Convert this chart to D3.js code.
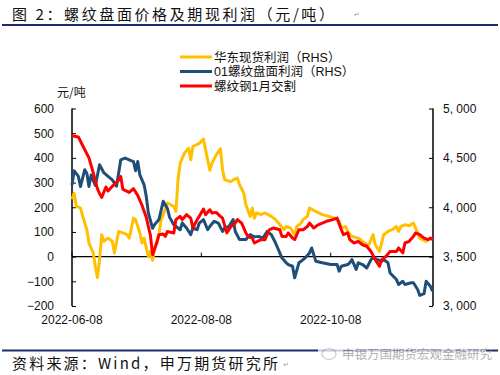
<!DOCTYPE html>
<html>
<head>
<meta charset="utf-8">
<style>
  body, html { margin: 0; padding: 0; background: #fff; }
  svg { display: block; }
</style>
</head>
<body>
<svg id="svg" width="500" height="375"></svg>
<script src="https://d3js.org/d3.v7.min.js"></script>
<script>
// 华东现货利润 (left axis, 元/吨)
const spotProfit = [
  ["06-08",232],["06-09",257],["06-10",205],["06-12",197],["06-13",165],["06-15",109],
  ["06-16",55],["06-18",15],["06-19",-39],["06-20",-85],["06-21",-12],["06-22",89],
  ["06-23",62],["06-25",75],["06-27",62],["06-28",15],["06-30",102],["07-02",96],
  ["07-04",89],["07-05",75],["07-07",156],["07-08",150],["07-10",96],["07-11",55],
  ["07-12",75],["07-14",1],["07-15",21],["07-16",-15],["07-17",35],["07-19",89],
  ["07-20",150],["07-21",170],["07-23",217],["07-26",203],["07-27",183],["07-28",311],
  ["07-29",378],["07-31",419],["08-02",439],["08-03",392],["08-04",446],["08-07",459],
  ["08-09",476],["08-10",432],["08-12",350],["08-13",378],["08-15",412],["08-17",437],
  ["08-18",351],["08-19",311],["08-22",304],["08-23",311],["08-25",318],["08-26",291],
  ["08-28",257],["08-29",210],["08-31",163],["09-01",197],["09-02",156],["09-03",177],
  ["09-05",170],["09-07",177],["09-10",163],["09-12",150],["09-14",129],["09-16",109],
  ["09-17",122],["09-19",116],["09-21",89],["09-22",122],["09-24",136],["09-25",150],
  ["09-27",163],["09-28",197],["10-01",183],["10-04",170],["10-07",163],["10-10",156],
  ["10-12",143],["10-13",116],["10-15",122],["10-16",102],["10-18",82],["10-21",75],
  ["10-22",69],["10-24",55],["10-26",48],["10-28",89],["10-29",48],["10-30",35],
  ["10-31",21],["11-02",89],["11-04",102],["11-06",109],["11-08",122],["11-09",102],
  ["11-10",122],["11-12",129],["11-14",125],["11-16",136],["11-18",96],["11-19",75],
  ["11-22",62],["11-23",69],["11-25",75]
]

// 01螺纹盘面利润 (left axis, 元/吨)
const futuresProfit = [
  ["06-08",290],["06-09",348],["06-11",325],["06-12",284],["06-14",352],["06-15",338],
  ["06-16",284],["06-17",331],["06-19",288],["06-21",372],["06-23",340],["06-25",325],
  ["06-27",311],["06-29",285],["07-01",392],["07-03",399],["07-05",392],["07-07",385],
  ["07-08",348],["07-09",385],["07-10",331],["07-12",291],["07-13",245],["07-14",177],
  ["07-16",115],["07-17",130],["07-19",150],["07-21",224],["07-23",195],["07-24",160],
  ["07-26",129],["07-29",109],["07-30",136],["08-01",116],["08-03",89],["08-04",116],
  ["08-06",109],["08-07",136],["08-09",150],["08-11",109],["08-12",122],["08-14",143],
  ["08-16",136],["08-18",102],["08-19",116],["08-21",122],["08-23",150],["08-24",102],
  ["08-26",69],["08-29",69],["08-31",89],["09-02",80],["09-04",82],["09-06",75],
  ["09-08",102],["09-10",89],["09-12",55],["09-13",35],["09-15",-5],["09-17",-25],
  ["09-18",-32],["09-20",-39],["09-21",-86],["09-23",-25],["09-24",-19],["09-26",-5],
  ["09-28",15],["09-29",35],["10-01",-19],["10-04",-25],["10-08",-32],["10-11",-32],
  ["10-12",-59],["10-13",-39],["10-16",-32],["10-17",-25],["10-18",-12],["10-20",-52],
  ["10-21",-25],["10-23",-32],["10-25",-46],["10-27",-12],["10-28",-5],["10-30",-12],
  ["11-01",-19],["11-02",-12],["11-04",-25],["11-05",-66],["11-08",-93],["11-09",-113],
  ["11-11",-100],["11-12",-113],["11-15",-106],["11-16",-106],["11-18",-133],["11-19",-157],
  ["11-21",-150],["11-22",-100],["11-24",-120],["11-25",-140]
]

// 螺纹钢1月交割 (right axis, 元/吨)
const rebarPrice = [
  ["06-08",4725],["06-11",4712],["06-13",4625],["06-16",4500],["06-18",4350],["06-20",4188],
  ["06-21",4138],["06-22",4100],["06-24",4205],["06-25",4165],["06-27",4212],["06-30",4275],
  ["07-01",4312],["07-02",4180],["07-05",4150],["07-07",4188],["07-09",4120],["07-11",4020],
  ["07-13",3900],["07-15",3712],["07-16",3520],["07-18",3640],["07-19",3722],["07-21",3730],
  ["07-22",3705],["07-23",3755],["07-26",3740],["07-27",3875],["07-29",3908],["07-30",3875],
  ["08-01",3925],["08-03",3890],["08-04",3790],["08-06",3875],["08-07",3908],["08-09",3982],
  ["08-10",3925],["08-12",3975],["08-13",3942],["08-15",3948],["08-17",3908],["08-18",3890],
  ["08-20",3740],["08-22",3805],["08-24",3840],["08-25",3875],["08-27",3840],["08-29",3740],
  ["08-30",3705],["09-01",3688],["09-02",3638],["09-05",3672],["09-07",3672],["09-09",3772],
  ["09-11",3790],["09-14",3772],["09-15",3705],["09-17",3705],["09-18",3740],["09-20",3688],
  ["09-21",3672],["09-23",3772],["09-25",3772],["09-27",3805],["09-28",3840],["09-30",3790],
  ["10-02",3822],["10-06",3858],["10-09",3875],["10-11",3890],["10-13",3772],["10-14",3722],
  ["10-16",3740],["10-17",3672],["10-19",3638],["10-21",3655],["10-23",3620],["10-25",3605],
  ["10-27",3552],["10-29",3470],["10-31",3402],["11-01",3470],["11-03",3502],["11-05",3552],
  ["11-08",3552],["11-09",3588],["11-11",3538],["11-12",3638],["11-14",3655],["11-16",3705],
  ["11-17",3740],["11-19",3722],["11-21",3688],["11-23",3672],["11-24",3688],["11-25",3672]
]

const leftTicks = [-200, -100, 0, 100, 200, 300, 400, 500, 600]
const rightTicks = [3000, 3500, 4000, 4500, 5000]
const dateTicks = ["2022-06-08", "2022-08-08", "2022-10-08"]

const seriesNames = ["华东现货利润（RHS）", "01螺纹盘面利润（RHS）", "螺纹钢1月交割"]
const seriesColors = ["#FFC000", "#1F4E79", "#FF0000"]

const parseDay = d3.timeParse("%Y-%m-%d")
const toPoints = arr => arr.map(d => ({ date: parseDay("2022-" + d[0]), value: d[1] }))

const svg = d3.select("#svg")
const cjk = "'Noto Sans CJK SC', 'Noto Sans', sans-serif"
const latin = "'Liberation Sans', Arial, sans-serif"
// latin metrics first, CJK glyphs fall back to Noto CJK
const mixed = "'Liberation Sans', 'Noto Sans CJK SC', sans-serif"

// header and footer
svg.append("text")
  .attr("x", 12).attr("y", 20)
  .attr("font-family", cjk).attr("font-size", 15)
  .attr("letter-spacing", 2.6)
  .attr("fill", "#111")
  .text("图 2：螺纹盘面价格及期现利润（元/吨）")
svg.append("text")
  .attr("x", 354).attr("y", 17)
  .attr("font-family", latin).attr("font-size", 7).attr("fill", "#999")
  .text("↵")
svg.append("line")
  .attr("x1", 2).attr("x2", 498).attr("y1", 25).attr("y2", 25)
  .attr("stroke", "#1F2A6B").attr("stroke-width", 2)

svg.append("line")
  .attr("x1", 2).attr("x2", 498).attr("y1", 350.5).attr("y2", 350.5)
  .attr("stroke", "#1F2A6B").attr("stroke-width", 2)
svg.append("text")
  .attr("x", 12).attr("y", 369)
  .attr("font-family", cjk).attr("font-size", 15)
  .attr("letter-spacing", 2.2)
  .attr("fill", "#111")
  .text("资料来源：Wind，申万期货研究所")
svg.append("text")
  .attr("x", 283).attr("y", 367)
  .attr("font-family", latin).attr("font-size", 7).attr("fill", "#999")
  .text("↵")

// watermark
const wm = svg.append("g").attr("opacity", 0.75)
wm.append("rect").attr("x", 318).attr("y", 346).attr("width", 168).attr("height", 17).attr("fill", "#fff")
wm.append("ellipse").attr("cx", 329).attr("cy", 354).attr("rx", 7).attr("ry", 5.5)
  .attr("fill", "none").attr("stroke", "#bbb").attr("stroke-width", 1.2)
wm.append("text")
  .attr("x", 342).attr("y", 359)
  .attr("font-family", cjk).attr("font-size", 12.5)
  .attr("fill", "#999")
  .text("申银万国期货宏观金融研究")

// scales
const xscale = d3.scaleTime()
  .domain([parseDay("2022-06-08"), parseDay("2022-11-25")])
  .range([72, 432.5])
const yLeft = d3.scaleLinear().domain([-200, 600]).range([306, 108.5])
const yRight = d3.scaleLinear().domain([3000, 5000]).range([306, 108.5])

// axes
const leftAxis = d3.axisLeft(yLeft).tickValues(leftTicks).tickSize(0).tickPadding(18)
  .tickFormat(d => d < 0 ? "\u2212" + Math.abs(d) : d)
const gl = svg.append("g").attr("transform", "translate(72,0)").call(leftAxis)
gl.select(".domain").remove()
gl.selectAll(".tick text").attr("font-family", latin).attr("font-size", 12).attr("fill", "#111")
gl.selectAll(".tick").append("line").attr("x1", 0).attr("x2", 4).attr("stroke", "#000")

const rightAxis = d3.axisRight(yRight).tickValues(rightTicks).tickSize(0).tickPadding(10)
  .tickFormat(d => d3.format(",")(d).replace(",", ", "))
const gr = svg.append("g").attr("transform", "translate(433,0)").call(rightAxis)
gr.select(".domain").remove()
gr.selectAll(".tick text").attr("font-family", latin).attr("font-size", 12).attr("fill", "#111")
gr.selectAll(".tick").append("line").attr("x1", 0).attr("x2", -4).attr("stroke", "#000")

// x labels at bottom, ticks on the zero line
const xg = svg.append("g")
dateTicks.forEach(t => {
  const x = xscale(parseDay(t))
  xg.append("text").attr("x", x).attr("y", 324)
    .attr("text-anchor", "middle")
    .attr("font-family", latin).attr("font-size", 12).attr("fill", "#111")
    .text(t)
  xg.append("line").attr("x1", x).attr("x2", x).attr("y1", yLeft(0)).attr("y2", yLeft(0) - 4)
    .attr("stroke", "#000")
})

svg.append("line").attr("x1", 72).attr("x2", 72).attr("y1", 108.5).attr("y2", 306)
  .attr("stroke", "#000").attr("stroke-width", 1.5)
svg.append("line").attr("x1", 433).attr("x2", 433).attr("y1", 108.5).attr("y2", 306)
  .attr("stroke", "#000").attr("stroke-width", 1.5)
svg.append("line").attr("x1", 72).attr("x2", 433).attr("y1", yLeft(0)).attr("y2", yLeft(0))
  .attr("stroke", "#000").attr("stroke-width", 1.3)

svg.append("text")
  .attr("x", 57).attr("y", 97)
  .attr("font-family", cjk).attr("font-size", 12).attr("fill", "#111")
  .text("元/吨")

// lines
const lineLeft = d3.line().x(d => xscale(d.date)).y(d => yLeft(d.value))
const lineRight = d3.line().x(d => xscale(d.date)).y(d => yRight(d.value))

svg.append("path").attr("d", lineLeft(toPoints(spotProfit)))
  .attr("fill", "none").attr("stroke", seriesColors[0]).attr("stroke-width", 3)
  .attr("stroke-linejoin", "round")
svg.append("path").attr("d", lineLeft(toPoints(futuresProfit)))
  .attr("fill", "none").attr("stroke", seriesColors[1]).attr("stroke-width", 3)
  .attr("stroke-linejoin", "round")
svg.append("path").attr("d", lineRight(toPoints(rebarPrice)))
  .attr("fill", "none").attr("stroke", seriesColors[2]).attr("stroke-width", 3)
  .attr("stroke-linejoin", "round")

// legend
const legend = svg.append("g")
seriesNames.forEach((name, i) => {
  const y = 57 + i * 14.5
  legend.append("line").attr("x1", 180).attr("x2", 212).attr("y1", y).attr("y2", y)
    .attr("stroke", seriesColors[i]).attr("stroke-width", 3)
  legend.append("text").attr("x", 214).attr("y", y + 4.5)
    .attr("font-family", mixed).attr("font-size", 12.5).attr("fill", "#111")
    .text(name)
})
</script>
</body>
</html>
